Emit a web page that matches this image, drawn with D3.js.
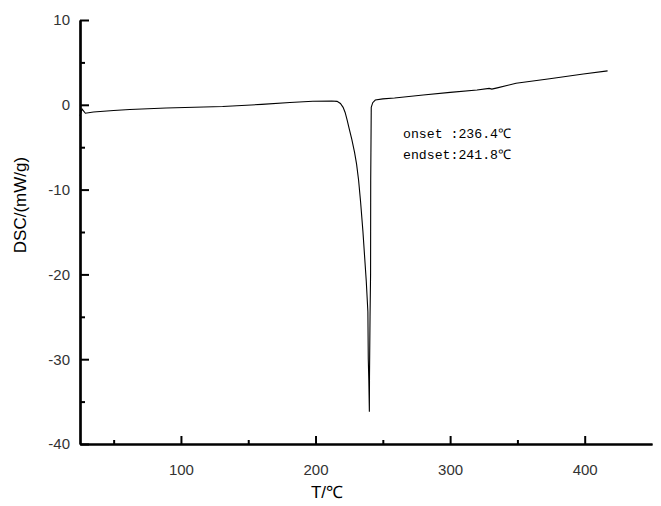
<!DOCTYPE html>
<html>
<head>
<meta charset="utf-8">
<script src="https://cdn.jsdelivr.net/npm/d3@7"></script>
<style>
  body { margin: 0; background: #fff; }
</style>
</head>
<body>
<script>
// DSC curve: temperature (°C) and heat flow (mW/g)
var temps = [25, 26.5, 29, 35, 50, 62, 89, 131, 160, 181, 198, 212, 216, 218.5, 220.5, 222, 223.5, 225, 227, 229, 230.5, 232, 233.5, 235.2, 237.7,
             238.9, 239.2, 239.6, 240.0, 240.1, 240.5, 240.9, 241.0, 241.4, 242.5, 244.4, 250, 258.7, 280,
             300, 320, 329, 331, 335, 349, 374, 399, 417];
var dsc = [-1.3, -0.5, -1.0, -0.85, -0.68, -0.55, -0.38, -0.2, 0.05, 0.28, 0.42, 0.45, 0.4, 0.15, -0.3, -0.9, -1.8, -2.8, -4.1, -5.6, -7.0, -8.9, -11.5, -14.9, -20.8,
           -24.4, -30, -32.5, -36.2, -32, -25, -20, -9, -0.3, 0.25, 0.56, 0.7, 0.8, 1.15,
           1.47, 1.75, 1.94, 1.85, 2.0, 2.54, 3.08, 3.64, 4.0];

var xTicks = [100, 200, 300, 400];
var xMinor = [50, 150, 250, 350];
var yTicks = [-40, -30, -20, -10, 0, 10];
var yMinor = [-35, -25, -15, -5, 5];
var notes = ["onset :236.4\u2103", "endset:241.8\u2103"];

// set the dimensions and margins of the graph
var margin = { top: 20, right: 9, bottom: 62, left: 80 },
    width = 661 - margin.left - margin.right,
    height = 506 - margin.top - margin.bottom;

var svg = d3.select("body").append("svg")
    .attr("width", 661)
    .attr("height", 506)
    .style("font-family", "'Liberation Sans', Arial, sans-serif")
    .append("g")
    .attr("transform", "translate(" + margin.left + "," + margin.top + ")");

var x = d3.scaleLinear().domain([25, 450]).range([0, width]);
var y = d3.scaleLinear().domain([-40, 10]).range([height, 0]);

// the curve
var data = temps.map((t, i) => { return { x: t, y: dsc[i] }; });
var valueline = d3.line()
    .x((d) => { return x(d.x); })
    .y((d) => { return y(d.y); });

svg.append("path")
    .datum(data)
    .attr("fill", "none")
    .attr("stroke", "#000")
    .attr("stroke-width", 1.1)
    .attr("d", valueline);

// axes, ticks pointing inward; plain hyphen for negatives
var fmt = (d) => { return String(d); };

svg.append("g")
    .attr("transform", "translate(0," + height + ")")
    .call(d3.axisBottom(x).tickValues(xTicks).tickFormat(fmt).tickSizeInner(-8).tickSizeOuter(0).tickPadding(20));
svg.append("g")
    .attr("transform", "translate(0," + height + ")")
    .call(d3.axisBottom(x).tickValues(xMinor).tickSizeInner(-4).tickSizeOuter(0).tickFormat(""));

svg.append("g")
    .call(d3.axisLeft(y).tickValues(yTicks).tickFormat(fmt).tickSizeInner(-9).tickSizeOuter(0).tickPadding(10));
svg.append("g")
    .call(d3.axisLeft(y).tickValues(yMinor).tickSizeInner(-5).tickSizeOuter(0).tickFormat(""));

svg.selectAll(".domain").attr("stroke", "#000").attr("stroke-width", 2.2);
svg.selectAll(".tick line").attr("stroke", "#000").attr("stroke-width", 2);
svg.selectAll(".tick text")
    .style("font-family", "'Liberation Sans', Arial, sans-serif")
    .attr("font-size", 15)
    .attr("fill", "#333");

// axis titles
svg.append("text")
    .attr("x", 327 - margin.left)
    .attr("y", 498 - margin.top)
    .attr("text-anchor", "middle")
    .attr("font-size", 17)
    .text("T/\u2103");

svg.append("text")
    .attr("transform", "translate(" + (26 - margin.left) + "," + (205 - margin.top) + ") rotate(-90)")
    .attr("text-anchor", "middle")
    .attr("font-size", 17)
    .text("DSC/(mW/g)");

// onset / endset annotation
svg.selectAll(".note")
    .data(notes)
    .enter().append("text")
    .attr("class", "note")
    .attr("x", 403 - margin.left)
    .attr("y", (d, i) => { return 138 - margin.top + i * 21; })
    .style("font-family", "'Liberation Mono', 'DejaVu Sans Mono', monospace")
    .attr("font-size", 13.2)
    .text((d) => { return d; });
</script>
</body>
</html>
